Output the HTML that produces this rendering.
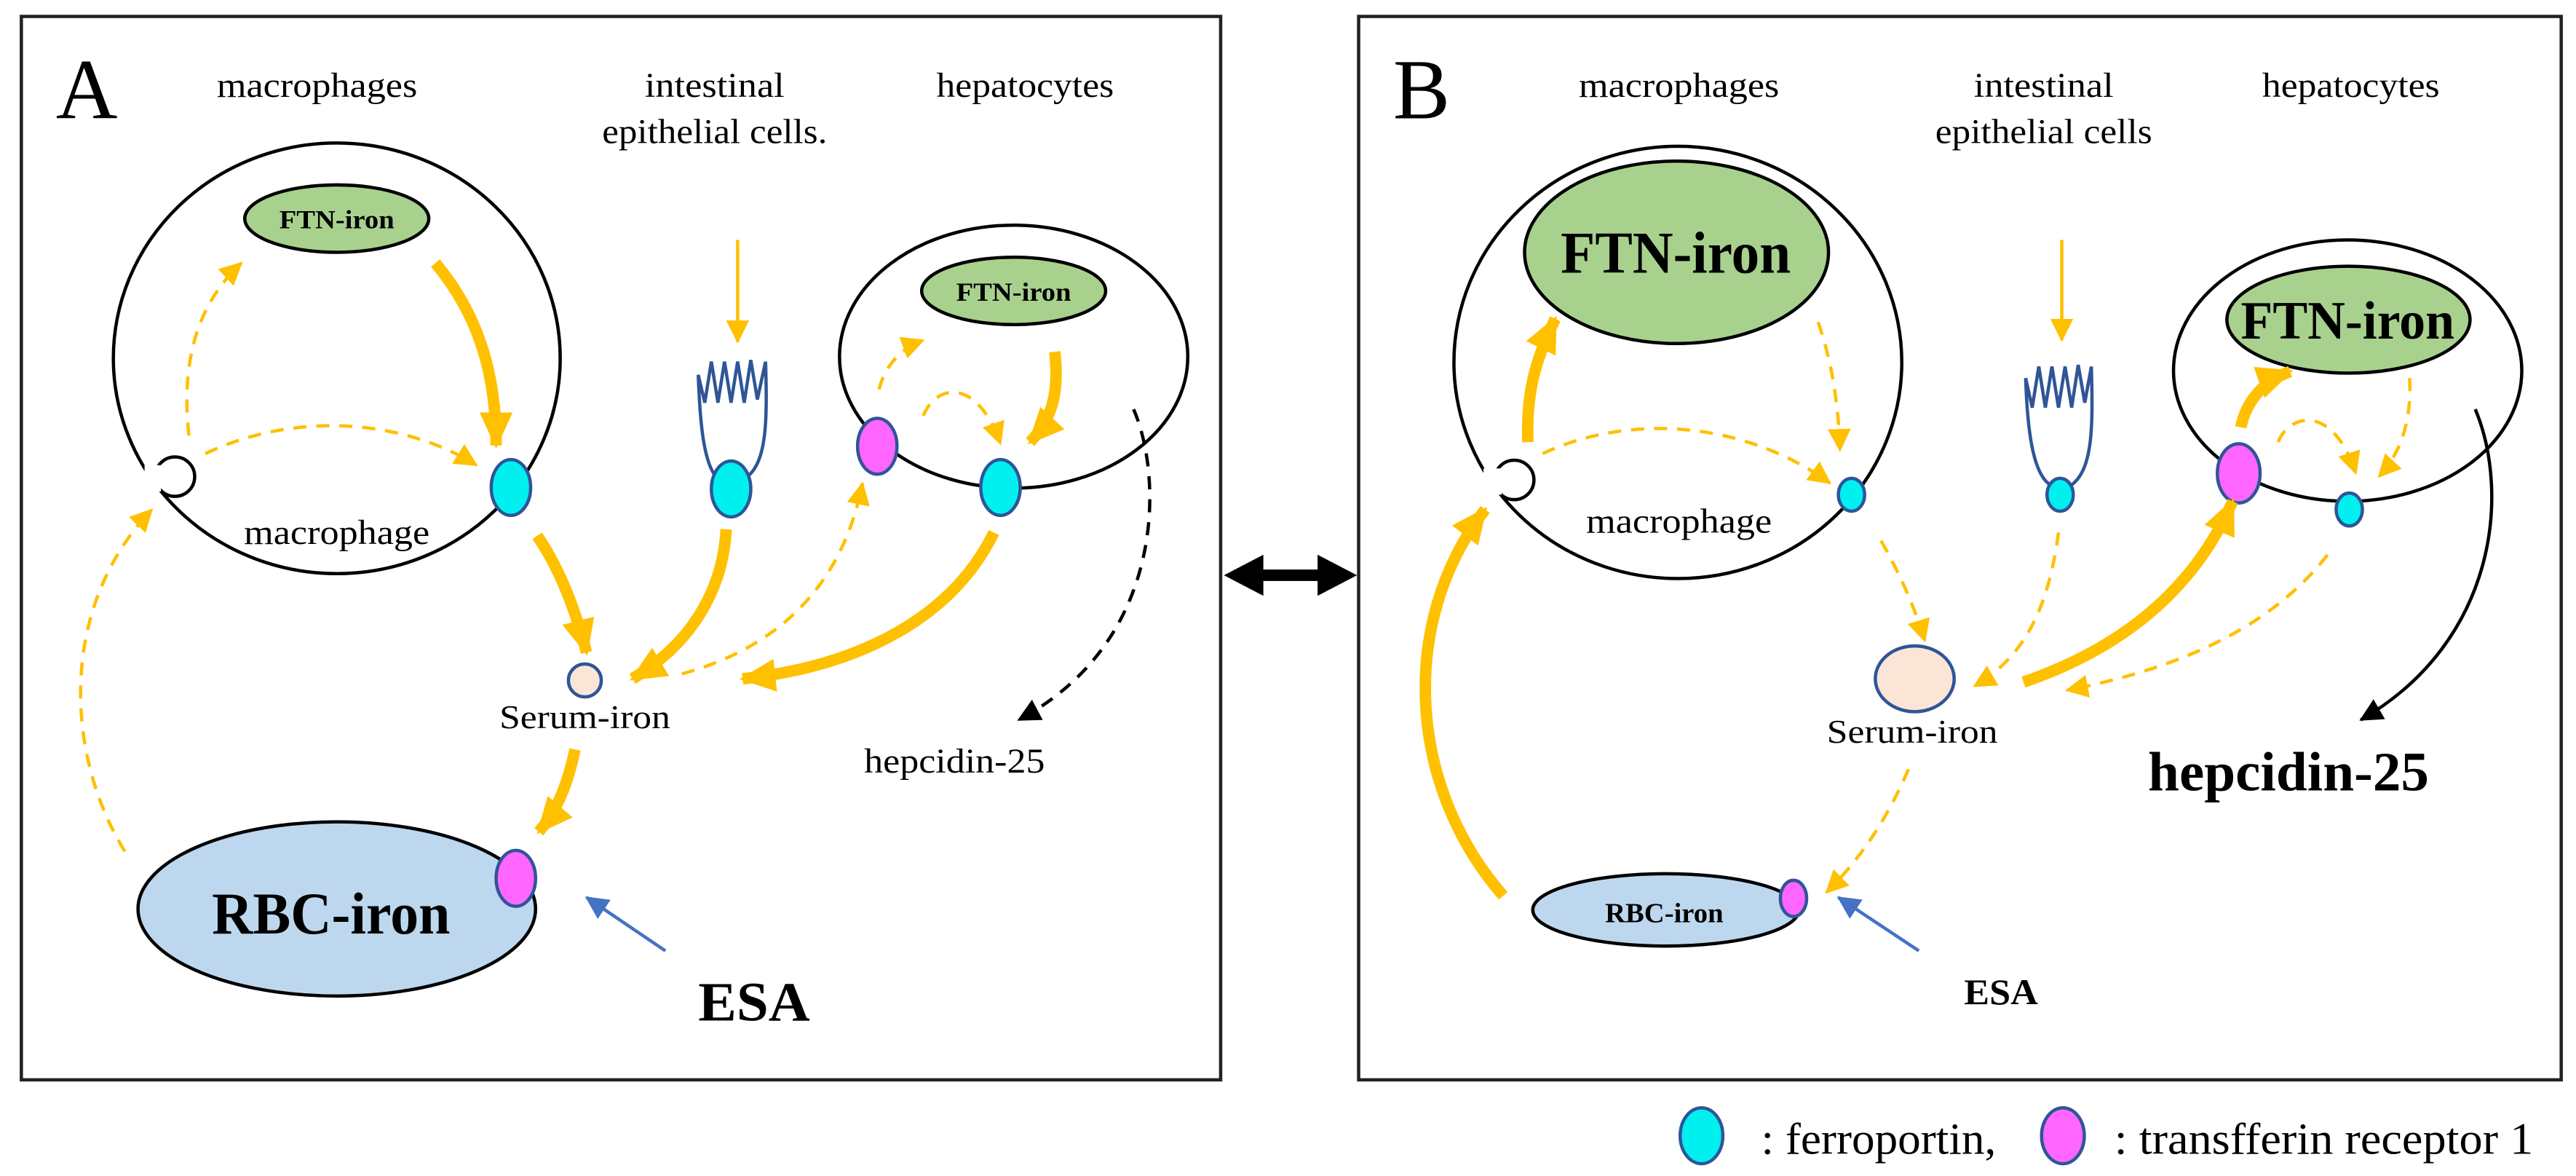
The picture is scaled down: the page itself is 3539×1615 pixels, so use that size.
<!DOCTYPE html>
<html><head><meta charset="utf-8"><style>html,body{margin:0;padding:0;background:#fff}svg{display:block}</style></head>
<body>
<svg width="3539" height="1615" viewBox="0 0 1568 715.5" preserveAspectRatio="none" xmlns="http://www.w3.org/2000/svg" font-family="Liberation Serif, serif">
<defs>
<marker id="ob" markerUnits="userSpaceOnUse" markerWidth="24" markerHeight="24" refX="20" refY="12" orient="auto"><path d="M0,2 L22,12 L0,22 z" fill="#ffc000"/></marker>
<marker id="os" markerUnits="userSpaceOnUse" markerWidth="16" markerHeight="16" refX="13" refY="8" orient="auto"><path d="M0,1 L14,8 L0,15 z" fill="#ffc000"/></marker>
<marker id="bk" markerUnits="userSpaceOnUse" markerWidth="16" markerHeight="16" refX="13" refY="8" orient="auto"><path d="M0,1 L14,8 L0,15 z" fill="#000"/></marker>
<marker id="bl" markerUnits="userSpaceOnUse" markerWidth="16" markerHeight="16" refX="13" refY="8" orient="auto"><path d="M0,1 L14,8 L0,15 z" fill="#4472c4"/></marker>
</defs>
<rect width="1568" height="715.5" fill="#fff"/>
<rect x="13" y="10" width="730" height="647" fill="none" stroke="#222" stroke-width="2"/>
<rect x="827" y="10" width="732" height="647" fill="none" stroke="#222" stroke-width="2"/>
<line x1="765" y1="350" x2="805" y2="350" stroke="#000" stroke-width="7"/>
<path d="M745,350 L769,337.5 L769,362.5 z M826,350 L802,337.5 L802,362.5 z" fill="#000"/>

<!-- ===== Panel A ===== -->
<text x="34" y="72" font-size="52">A</text>
<g font-size="21" text-anchor="middle">
<text x="193" y="59" textLength="122" lengthAdjust="spacingAndGlyphs">macrophages</text>
<text x="435" y="59" textLength="85" lengthAdjust="spacingAndGlyphs">intestinal</text>
<text x="435" y="87" textLength="137" lengthAdjust="spacingAndGlyphs">epithelial cells.</text>
<text x="624" y="59" textLength="108" lengthAdjust="spacingAndGlyphs">hepatocytes</text>
</g>
<ellipse cx="205" cy="218" rx="136" ry="131" fill="none" stroke="#000" stroke-width="2"/>
<circle cx="106.5" cy="290" r="12" fill="#fff" stroke="#000" stroke-width="2"/>
<rect x="88" y="283" width="10" height="16" fill="#fff"/>
<text x="205" y="331" font-size="21" text-anchor="middle" textLength="113" lengthAdjust="spacingAndGlyphs">macrophage</text>
<ellipse cx="205" cy="133" rx="56" ry="20.5" fill="#a9d18e" stroke="#000" stroke-width="2"/>
<text x="205" y="139" font-size="16" font-weight="bold" text-anchor="middle" textLength="70" lengthAdjust="spacingAndGlyphs">FTN-iron</text>
<path d="M265,160 C290,190 302,225 302,271" fill="none" stroke="#ffc000" stroke-width="7" marker-end="url(#ob)"/>
<path d="M115,265 C110,220 120,185 147,160" fill="none" stroke="#ffc000" stroke-width="2" stroke-dasharray="8,6" marker-end="url(#os)"/>
<path d="M125,276 C180,250 245,255 290,283" fill="none" stroke="#ffc000" stroke-width="2" stroke-dasharray="8,6" marker-end="url(#os)"/>
<ellipse cx="311" cy="296.6" rx="12" ry="17" fill="#00f0f0" stroke="#2f5597" stroke-width="2"/>
<line x1="449" y1="146" x2="449" y2="208" stroke="#ffc000" stroke-width="2" marker-end="url(#os)"/>
<path d="M438,292 C428,285 426,255 425,228 M425,228 L429,245 L433,220 L437,245 L441,220 L445,245 L449,220 L453,245 L457,219 L461,243 L466,220 M466,220 C467,255 467,280 455,290" fill="none" stroke="#2f5597" stroke-width="2"/>
<ellipse cx="445" cy="297.5" rx="12" ry="17" fill="#00f0f0" stroke="#2f5597" stroke-width="2"/>
<ellipse cx="617" cy="217" rx="106" ry="80" fill="none" stroke="#000" stroke-width="2"/>
<ellipse cx="617" cy="177" rx="56" ry="20.5" fill="#a9d18e" stroke="#000" stroke-width="2"/>
<text x="617" y="183" font-size="16" font-weight="bold" text-anchor="middle" textLength="70" lengthAdjust="spacingAndGlyphs">FTN-iron</text>
<path d="M642,214 C645,240 640,255 627,269" fill="none" stroke="#ffc000" stroke-width="7" marker-end="url(#ob)"/>
<path d="M535,237 C538,225 546,213 562,207" fill="none" stroke="#ffc000" stroke-width="2" stroke-dasharray="8,6" marker-end="url(#os)"/>
<path d="M562,253 C570,233 595,230 609,270" fill="none" stroke="#ffc000" stroke-width="2" stroke-dasharray="8,6" marker-end="url(#os)"/>
<ellipse cx="534" cy="271.5" rx="12" ry="17" fill="#ff66ff" stroke="#2f5597" stroke-width="2"/>
<ellipse cx="609" cy="296.6" rx="12" ry="17" fill="#00f0f0" stroke="#2f5597" stroke-width="2"/>
<circle cx="356" cy="414" r="10" fill="#fbe5d6" stroke="#2f5597" stroke-width="2"/>
<text x="356" y="443" font-size="20" text-anchor="middle" textLength="104" lengthAdjust="spacingAndGlyphs">Serum-iron</text>
<path d="M327,326 C340,345 350,370 357,397" fill="none" stroke="#ffc000" stroke-width="7" marker-end="url(#ob)"/>
<path d="M442,322 C440,360 420,392 385,413" fill="none" stroke="#ffc000" stroke-width="7" marker-end="url(#ob)"/>
<path d="M605,324 C580,375 525,405 452,413" fill="none" stroke="#ffc000" stroke-width="7" marker-end="url(#ob)"/>
<path d="M415,410 C470,395 512,360 525,294" fill="none" stroke="#ffc000" stroke-width="2" stroke-dasharray="8,6" marker-end="url(#os)"/>
<path d="M690,249 C708,290 710,390 620,438" fill="none" stroke="#000" stroke-width="2" stroke-dasharray="8,6" marker-end="url(#bk)"/>
<text x="581" y="470" font-size="21" text-anchor="middle" textLength="110" lengthAdjust="spacingAndGlyphs">hepcidin-25</text>
<ellipse cx="205" cy="553" rx="121" ry="53" fill="#bdd7ee" stroke="#000" stroke-width="2"/>
<text x="201.5" y="568" font-size="36" font-weight="bold" text-anchor="middle" textLength="145" lengthAdjust="spacingAndGlyphs">RBC-iron</text>
<path d="M350,456 C346,475 340,492 328,506" fill="none" stroke="#ffc000" stroke-width="7" marker-end="url(#ob)"/>
<ellipse cx="314" cy="534.4" rx="12" ry="17" fill="#ff66ff" stroke="#2f5597" stroke-width="2"/>
<line x1="405" y1="578.5" x2="357" y2="546" stroke="#4472c4" stroke-width="2" marker-end="url(#bl)"/>
<text x="459" y="621" font-size="34" font-weight="bold" text-anchor="middle" textLength="68" lengthAdjust="spacingAndGlyphs">ESA</text>
<path d="M76,518 C40,460 35,370 92.5,310" fill="none" stroke="#ffc000" stroke-width="2" stroke-dasharray="8,6" marker-end="url(#os)"/>

<!-- ===== Panel B ===== -->
<text x="848" y="72" font-size="52">B</text>
<g font-size="21" text-anchor="middle">
<text x="1022" y="59" textLength="122" lengthAdjust="spacingAndGlyphs">macrophages</text>
<text x="1244" y="59" textLength="85" lengthAdjust="spacingAndGlyphs">intestinal</text>
<text x="1244" y="87" textLength="132" lengthAdjust="spacingAndGlyphs">epithelial cells</text>
<text x="1431" y="59" textLength="108" lengthAdjust="spacingAndGlyphs">hepatocytes</text>
</g>
<ellipse cx="1021.3" cy="220.5" rx="136.3" ry="131.5" fill="none" stroke="#000" stroke-width="2"/>
<circle cx="921.7" cy="292" r="12" fill="#fff" stroke="#000" stroke-width="2"/>
<rect x="903" y="285" width="11" height="16" fill="#fff"/>
<text x="1022" y="324" font-size="21" text-anchor="middle" textLength="113" lengthAdjust="spacingAndGlyphs">macrophage</text>
<ellipse cx="1020.5" cy="153.5" rx="92.5" ry="55.5" fill="#a9d18e" stroke="#000" stroke-width="2"/>
<text x="1020" y="166" font-size="36" font-weight="bold" text-anchor="middle" textLength="140" lengthAdjust="spacingAndGlyphs">FTN-iron</text>
<path d="M930,269 C929,240 934,220 946.7,194" fill="none" stroke="#ffc000" stroke-width="7" marker-end="url(#ob)"/>
<path d="M1106.7,196 C1115,220 1119,245 1120,274" fill="none" stroke="#ffc000" stroke-width="2" stroke-dasharray="8,6" marker-end="url(#os)"/>
<path d="M939,276 C990,252 1060,255 1114,294" fill="none" stroke="#ffc000" stroke-width="2" stroke-dasharray="8,6" marker-end="url(#os)"/>
<ellipse cx="1127" cy="301" rx="8" ry="10" fill="#00f0f0" stroke="#2f5597" stroke-width="2"/>
<line x1="1255" y1="146" x2="1255" y2="207" stroke="#ffc000" stroke-width="2" marker-end="url(#os)"/>
<path d="M1248,295 C1237,288 1234,260 1233,230 M1233,230 L1237,248 L1241,223 L1245,248 L1249,223 L1253,248 L1257,223 L1261,248 L1265,222 L1269,245 L1273,223 M1273,223 C1274,260 1274,285 1261,295" fill="none" stroke="#2f5597" stroke-width="2"/>
<ellipse cx="1254" cy="301" rx="8" ry="10" fill="#00f0f0" stroke="#2f5597" stroke-width="2"/>
<ellipse cx="1429" cy="225.5" rx="106" ry="79.5" fill="none" stroke="#000" stroke-width="2"/>
<ellipse cx="1429.5" cy="194.5" rx="74" ry="32.5" fill="#a9d18e" stroke="#000" stroke-width="2"/>
<text x="1429" y="206" font-size="33" font-weight="bold" text-anchor="middle" textLength="130" lengthAdjust="spacingAndGlyphs">FTN-iron</text>
<path d="M1364,260 C1367,245 1377,232 1394,226" fill="none" stroke="#ffc000" stroke-width="7" marker-end="url(#ob)"/>
<path d="M1386.7,269 C1393,252 1420,245 1434,288" fill="none" stroke="#ffc000" stroke-width="2" stroke-dasharray="8,6" marker-end="url(#os)"/>
<path d="M1466.7,230 C1468,255 1462,275 1448,290" fill="none" stroke="#ffc000" stroke-width="2" stroke-dasharray="8,6" marker-end="url(#os)"/>
<ellipse cx="1362.7" cy="288" rx="13" ry="18" fill="#ff66ff" stroke="#2f5597" stroke-width="2"/>
<ellipse cx="1430" cy="310" rx="8" ry="10" fill="#00f0f0" stroke="#2f5597" stroke-width="2"/>
<path d="M1506.7,249 C1528,300 1520,390 1437,438" fill="none" stroke="#000" stroke-width="2" marker-end="url(#bk)"/>
<text x="1393" y="481" font-size="34" font-weight="bold" text-anchor="middle" textLength="171" lengthAdjust="spacingAndGlyphs">hepcidin-25</text>
<ellipse cx="1165.5" cy="413" rx="24" ry="20" fill="#fbe5d6" stroke="#2f5597" stroke-width="2"/>
<text x="1164" y="452" font-size="20" text-anchor="middle" textLength="104" lengthAdjust="spacingAndGlyphs">Serum-iron</text>
<path d="M1145,329 C1154,345 1164,365 1171.7,390" fill="none" stroke="#ffc000" stroke-width="2" stroke-dasharray="8,6" marker-end="url(#os)"/>
<path d="M1253,324 C1247,370 1232,400 1201.7,417.5" fill="none" stroke="#ffc000" stroke-width="2" stroke-dasharray="8,6" marker-end="url(#os)"/>
<path d="M1231.7,415 C1290,395 1335,360 1359,305" fill="none" stroke="#ffc000" stroke-width="7" marker-end="url(#ob)"/>
<path d="M1416.7,337.6 C1380,385 1320,408 1258,420" fill="none" stroke="#ffc000" stroke-width="2" stroke-dasharray="8,6" marker-end="url(#os)"/>
<ellipse cx="1014" cy="553.6" rx="81" ry="22" fill="#bdd7ee" stroke="#000" stroke-width="2"/>
<text x="1013" y="561" font-size="17" font-weight="bold" text-anchor="middle" textLength="72" lengthAdjust="spacingAndGlyphs">RBC-iron</text>
<ellipse cx="1091.7" cy="546.6" rx="8" ry="11" fill="#ff66ff" stroke="#2f5597" stroke-width="2"/>
<path d="M1161.7,468 C1150,495 1135,520 1111.7,543" fill="none" stroke="#ffc000" stroke-width="2" stroke-dasharray="8,6" marker-end="url(#os)"/>
<line x1="1168" y1="578.5" x2="1119" y2="546" stroke="#4472c4" stroke-width="2" marker-end="url(#bl)"/>
<text x="1218" y="611" font-size="22" font-weight="bold" text-anchor="middle" textLength="45" lengthAdjust="spacingAndGlyphs">ESA</text>
<path d="M915,545 C858,480 850,380 904,310" fill="none" stroke="#ffc000" stroke-width="7" marker-end="url(#ob)"/>

<!-- Legend -->
<ellipse cx="1035.7" cy="691" rx="13" ry="17" fill="#00f0f0" stroke="#2f5597" stroke-width="2"/>
<text x="1072" y="702" font-size="27" textLength="143" lengthAdjust="spacingAndGlyphs">: ferroportin,</text>
<ellipse cx="1255.7" cy="691" rx="13" ry="17" fill="#ff66ff" stroke="#2f5597" stroke-width="2"/>
<text x="1287" y="702" font-size="27" textLength="255" lengthAdjust="spacingAndGlyphs">: transfferin receptor 1</text>
</svg>
</body></html>
